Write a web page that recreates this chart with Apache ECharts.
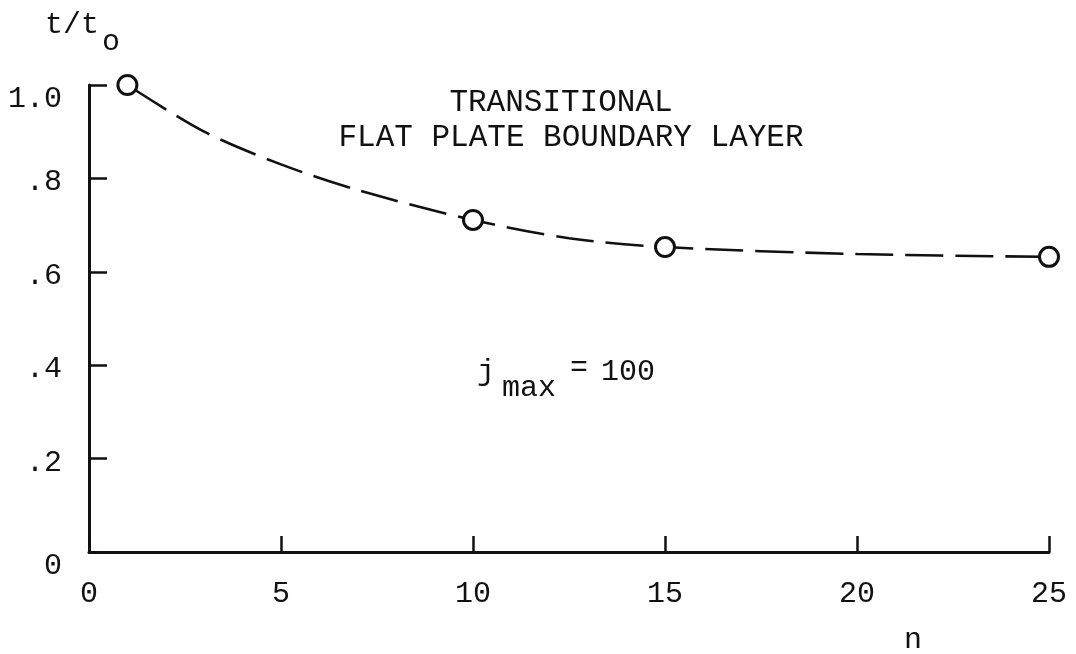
<!DOCTYPE html>
<html>
<head>
<meta charset="utf-8">
<script src="https://cdn.jsdelivr.net/npm/echarts@6/dist/echarts.min.js"></script>
<style>
  html, body { margin: 0; padding: 0; background: #fff; }
  #chart { width: 1076px; height: 654px; }
</style>
</head>
<body>
<div id="chart"></div>
<script>
// Thickness ratio vs. number of steps n, transitional flat plate boundary layer
// computed points
const nValues = [1, 10, 15, 25];
const ratioValues = [1.0, 0.711, 0.653, 0.632];
// faired dashed curve through the points
const curveN = [1, 3, 5, 7, 10, 12.5, 15, 20, 25];
const curveRatio = [1.0, 0.90, 0.83, 0.775, 0.711, 0.672, 0.653, 0.638, 0.632];
// axis ticks
const xTicks = [0, 5, 10, 15, 20, 25];
const yTicks = [0, 0.2, 0.4, 0.6, 0.8, 1.0];
const yTickLabels = ['0', '.2', '.4', '.6', '.8', '1.0'];

const FONT = '"Liberation Mono", "DejaVu Sans Mono", monospace';
const INK = '#111';

const chart = echarts.init(document.getElementById('chart'), null, { renderer: 'canvas' });

const option = {
  backgroundColor: '#fff',
  animation: false,
  grid: { left: 89, right: 27, top: 85, bottom: 102 },
  xAxis: {
    type: 'value', min: 0, max: 25, interval: 5,
    axisLine: { show: true, lineStyle: { color: INK, width: 3 } },
    axisTick: { show: true, inside: true, length: 16, lineStyle: { color: INK, width: 2.5 } },
    axisLabel: { show: false },
    splitLine: { show: false }
  },
  yAxis: {
    type: 'value', min: 0, max: 1, interval: 0.2,
    axisLine: { show: true, lineStyle: { color: INK, width: 3 } },
    axisTick: { show: true, inside: true, length: 18, lineStyle: { color: INK, width: 2.5 } },
    axisLabel: { show: false },
    splitLine: { show: false }
  },
  series: [
    {
      type: 'line',
      data: curveN.map((n, i) => [n, curveRatio[i]]),
      smooth: 0.3,
      symbol: 'none',
      lineStyle: { color: INK, width: 2.6, type: [38, 12], dashOffset: -8 },
      z: 2
    },
    {
      type: 'scatter',
      data: nValues.map((n, i) => [n, ratioValues[i]]),
      symbol: 'circle',
      symbolSize: 19,
      itemStyle: { color: '#fff', borderColor: INK, borderWidth: 3, opacity: 1 },
      z: 3
    }
  ]
};
chart.setOption(option);

// Tick labels and annotations placed through the grid's own coordinate system
const px = (x, y) => chart.convertToPixel({ gridIndex: 0 }, [x, y]);
const txt = (x, y, s, opts) => ({
  type: 'text', x: x, y: y, silent: true,
  style: Object.assign({ text: s, font: '30px ' + FONT, fill: INK, textAlign: 'center', textVerticalAlign: 'middle' }, opts || {})
});

const graphics = [];
xTicks.forEach(v => {
  const p = px(v, 0);
  graphics.push(txt(p[0], p[1] + 42, String(v)));
});
yTicks.forEach((v, i) => {
  const p = px(0, v);
  const dy = v === 0 ? 14 : (v === 1 ? 14 : 4);
  graphics.push(txt(p[0] - 27, p[1] + dy, yTickLabels[i], { textAlign: 'right' }));
});

// axis titles
graphics.push(txt(72, 25, 't/t'));
graphics.push(txt(111, 42, 'o'));
graphics.push(txt(913, 640, 'n'));

// chart caption
graphics.push(txt(561, 103, 'TRANSITIONAL', { font: '31px ' + FONT }));
graphics.push(txt(571, 138, 'FLAT PLATE BOUNDARY LAYER', { font: '31px ' + FONT }));

// grid parameter
graphics.push(txt(486, 372, 'j'));
graphics.push(txt(529, 388, 'max'));
graphics.push(txt(579, 368, '='));
graphics.push(txt(628, 372, '100'));

chart.setOption({ graphic: { elements: graphics } });
</script>
</body>
</html>
